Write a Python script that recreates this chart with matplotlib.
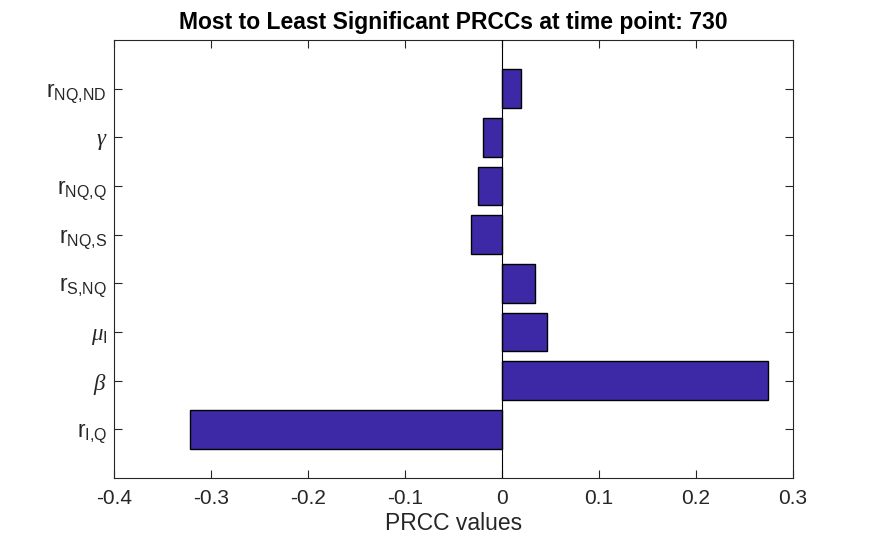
import matplotlib
matplotlib.use("Agg")
import matplotlib.pyplot as plt
import numpy as np

plt.rcParams['font.family'] = ['Liberation Sans', 'DejaVu Sans']
plt.rcParams['mathtext.fontset'] = 'custom'
plt.rcParams['mathtext.rm'] = 'Liberation Sans'
plt.rcParams['mathtext.it'] = 'Liberation Serif:italic'
plt.rcParams['mathtext.bf'] = 'Liberation Sans:bold'

labels = [r'$\mathrm{r}_{\mathrm{I{,}Q}}$', r'$\beta$', r'$\mu_{\mathrm{I}}$',
          r'$\mathrm{r}_{\mathrm{S{,}NQ}}$', r'$\mathrm{r}_{\mathrm{NQ{,}S}}$',
          r'$\mathrm{r}_{\mathrm{NQ{,}Q}}$', r'$\gamma$', r'$\mathrm{r}_{\mathrm{NQ{,}ND}}$']
prcc = [-0.322, 0.274, 0.046, 0.034, -0.032, -0.025, -0.020, 0.020]
xticks = [-0.4, -0.3, -0.2, -0.1, 0, 0.1, 0.2, 0.3]
xticklabels = ['-0.4', '-0.3', '-0.2', '-0.1', '0', '0.1', '0.2', '0.3']
title = 'Most to Least Significant PRCCs at time point: 730'

fig = plt.figure(figsize=(8.75, 5.43), dpi=100)
ax = fig.add_axes([114/875, 1-478/543, (793-114)/875, (478-40)/543])

pos = np.arange(1, len(prcc)+1)
ax.barh(pos, prcc, height=0.8, color='#3d28a6', edgecolor='black', linewidth=1.0, zorder=2)
ax.axvline(0, color='black', linewidth=0.8, zorder=3)

ax.set_xlim(-0.4, 0.3)
ax.set_ylim(0, 9)
ax.set_xticks(xticks)
ax.set_xticklabels(xticklabels)
ax.set_yticks(pos)
ax.set_yticklabels(labels)

gray = '#262626'
for s in ax.spines.values():
    s.set_color(gray)
    s.set_linewidth(0.8)
ax.tick_params(axis='both', direction='in', length=6, width=0.8, color=gray,
               labelcolor=gray, labelsize=15, top=True, right=True)
ax.tick_params(axis='x', pad=8)
ax.tick_params(axis='y', pad=5, labelsize=16.5)
ax.set_xlabel('PRCC values', fontsize=16.5, color=gray, labelpad=3)
ax.set_title(title, fontsize=16.5, fontweight='bold', color='black', pad=8)

fig.savefig('out.png', dpi=100)
